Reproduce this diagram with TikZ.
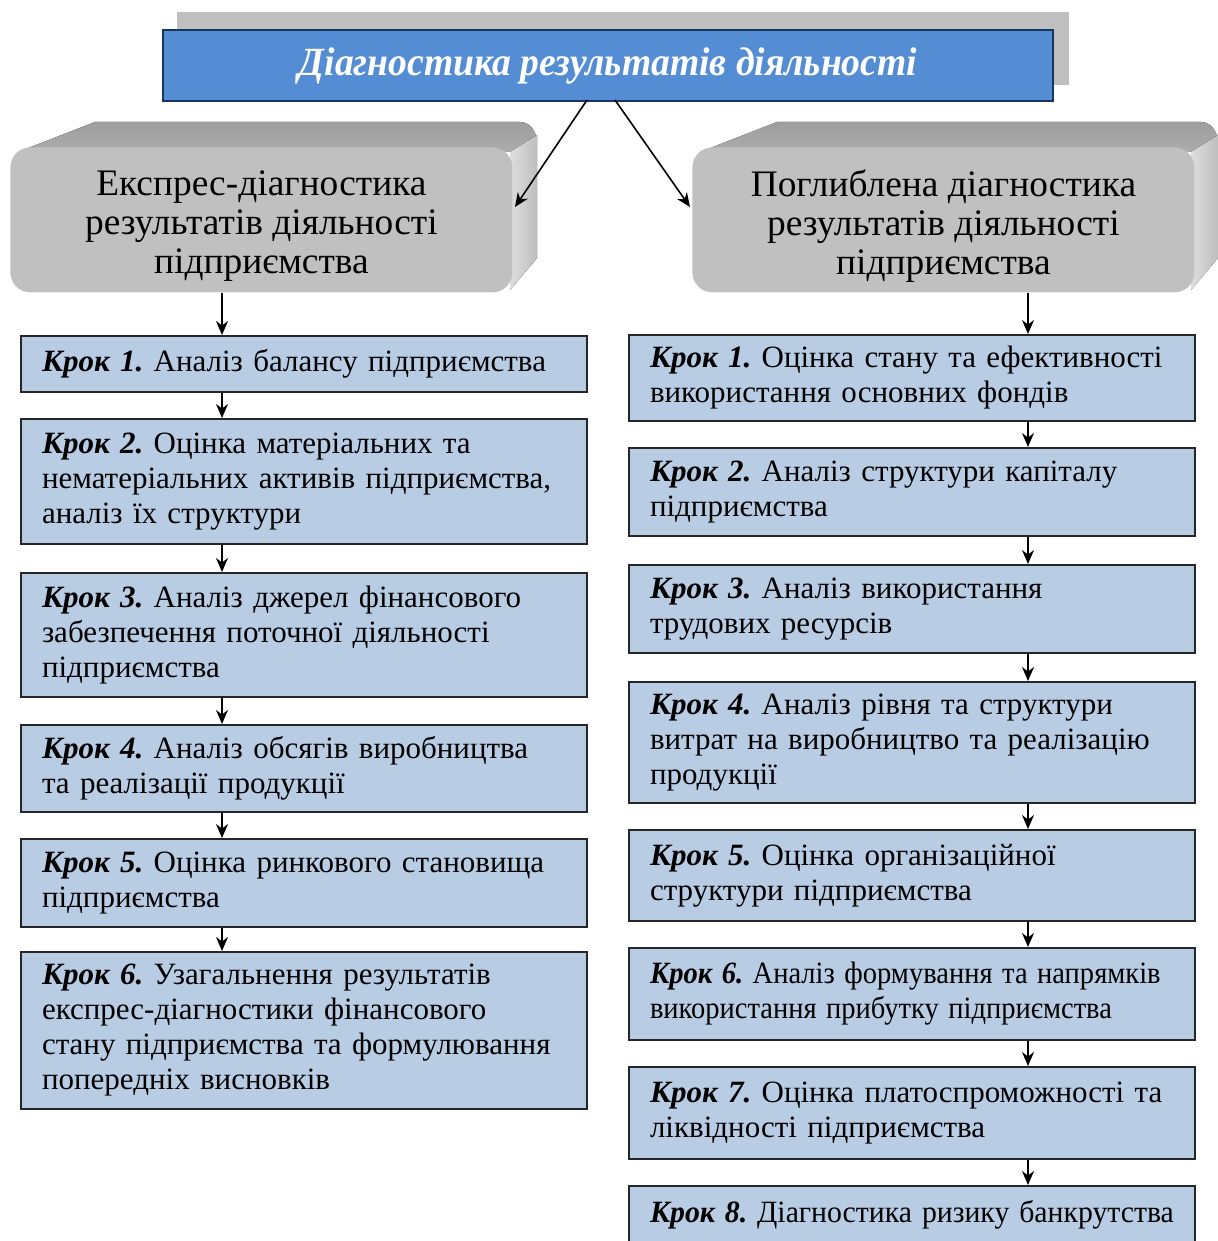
\documentclass[tikz,border=0pt]{standalone}
\usepackage{fontspec}
\setmainfont{Liberation Serif}
\usetikzlibrary{arrows.meta,calc}
\definecolor{bannerblue}{RGB}{84,141,212}
\definecolor{bannerborder}{RGB}{23,54,93}
\definecolor{stepfill}{RGB}{184,204,228}
\definecolor{topgray}{RGB}{158,158,158}
\definecolor{topgraylight}{RGB}{172,172,172}
\definecolor{frontgray}{RGB}{192,192,192}
\definecolor{sidegray}{RGB}{222,222,222}
\definecolor{sidegraydark}{RGB}{190,190,190}
\definecolor{shadowgray}{RGB}{191,191,191}
\newcommand\krok[1]{\textbf{\textit{Крок #1.}}}
\frenchspacing
\begin{document}
\begin{tikzpicture}[x=0.5pt,y=-0.5pt,
  stepbox/.style={draw=black!85, line width=1pt, fill=stepfill, anchor=north west,
    minimum width=283pt, text width=262pt, align=left, inner xsep=10.5pt, inner ysep=0pt,
    font=\fontsize{15.5}{17.5}\selectfont\frenchspacing},
  headbox/.style={fill=frontgray, rounded corners=10pt, anchor=north west,
    minimum width=251pt, minimum height=72.5pt, inner sep=0pt},
  headtext/.style={font=\fontsize{18.7}{19.5}\selectfont, align=center, yshift=-3pt},
  arr/.style={-{Stealth[length=7pt,width=6pt]}, line width=0.8pt},
  topface/.style={top color=topgray, bottom color=topgraylight},
  sideface/.style={left color=sidegray, right color=sidegraydark}
]
\useasboundingbox (0,0) rectangle (1218,1241);

% banner
\fill[shadowgray] (177,12) rectangle (1069,85);
\node[fill=bannerblue, draw=bannerborder, line width=1pt, anchor=north west,
  minimum width=445pt, minimum height=35.5pt, inner sep=0pt,
  text=white, font=\fontsize{20}{22}\selectfont\bfseries\itshape] (top) at (162,29)
  {\scalebox{0.94}[1]{Діагностика результатів діяльності}};

% left header 3D
\fill[topface] (18,152) -- (95,122) -- (520,122) to[out=0,in=100] (537,140) -- (512,152) -- cycle;
\fill[sideface] (510,152) -- (537,135) -- (537,258) -- (510,290) -- cycle;
\node[headbox, label={[headtext]center:Експрес-діагностика\\результатів діяльності\\підприємства}] (hl) at (10,147) {};

% right header 3D
\fill[topface] (700,152) -- (777,122) -- (1201,122) to[out=0,in=100] (1218,140) -- (1193,152) -- cycle;
\fill[sideface] (1191,152) -- (1218,135) -- (1218,258) -- (1191,290) -- cycle;
\node[headbox, label={[headtext]center:Поглиблена діагностика\\результатів діяльності\\підприємства}] (hr) at (692,147) {};

% diagonal arrows
\coordinate (ts1) at (587,100);
\coordinate (ts2) at (615,100);
\coordinate (le) at (515,207);
\coordinate (re) at (690,207);
\draw[arr] (ts1) -- (le);
\draw[arr] (ts2) -- (re);

% left column
\node[stepbox, minimum height=28pt] (l1) at (20,335)
  {\krok{1} Аналіз балансу підприємства};
\node[stepbox, minimum height=62.5pt] (l2) at (20,418)
  {\krok{2} Оцінка матеріальних та\\нематеріальних активів підприємства,\\аналіз їх структури};
\node[stepbox, minimum height=62pt] (l3) at (20,572)
  {\krok{3} Аналіз джерел фінансового\\забезпечення поточної діяльності\\підприємства};
\node[stepbox, minimum height=43.5pt] (l4) at (20,724)
  {\krok{4} Аналіз обсягів виробництва\\та реалізації продукції};
\node[stepbox, minimum height=44pt] (l5) at (20,838)
  {\krok{5} Оцінка ринкового становища\\підприємства};
\node[stepbox, minimum height=78.5pt] (l6) at (20,951)
  {\krok{6} Узагальнення результатів\\експрес-діагностики фінансового\\стану підприємства та формулювання\\попередніх висновків};

% right column
\node[stepbox, minimum height=43pt] (r1) at (628,334)
  {\krok{1} Оцінка стану та ефективності\\використання основних фондів};
\node[stepbox, minimum height=44pt] (r2) at (628,447)
  {\krok{2} Аналіз структури капіталу\\підприємства};
\node[stepbox, minimum height=44pt] (r3) at (628,564)
  {\krok{3} Аналіз використання\\трудових ресурсів};
\node[stepbox, minimum height=60.5pt] (r4) at (628,681)
  {\krok{4} Аналіз рівня та структури\\витрат на виробництво та реалізацію\\продукції};
\node[stepbox, minimum height=45.5pt] (r5) at (628,829)
  {\krok{5} Оцінка організаційної\\структури підприємства};
\node[stepbox, minimum height=46pt] (r6) at (628,947)
  {\scalebox{0.92}[1]{\krok{6} Аналіз формування та напрямків}\\\scalebox{0.92}[1]{використання прибутку підприємства}};
\node[stepbox, minimum height=46pt] (r7) at (628,1066)
  {\krok{7} Оцінка платоспроможності та\\ліквідності підприємства};
\node[stepbox, minimum height=29pt] (r8) at (628,1185)
  {\scalebox{0.96}[1]{\krok{8} Діагностика ризику банкрутства}};

% vertical arrows
\coordinate (lx) at (222,0);
\coordinate (rx) at (1028,0);
\draw[arr] (hl.south -| lx) -- (l1.north -| lx);
\draw[arr] (l1.south -| lx) -- (l2.north -| lx);
\draw[arr] (l2.south -| lx) -- (l3.north -| lx);
\draw[arr] (l3.south -| lx) -- (l4.north -| lx);
\draw[arr] (l4.south -| lx) -- (l5.north -| lx);
\draw[arr] (l5.south -| lx) -- (l6.north -| lx);
\draw[arr] (hr.south -| rx) -- (r1.north -| rx);
\draw[arr] (r1.south -| rx) -- (r2.north -| rx);
\draw[arr] (r2.south -| rx) -- (r3.north -| rx);
\draw[arr] (r3.south -| rx) -- (r4.north -| rx);
\draw[arr] (r4.south -| rx) -- (r5.north -| rx);
\draw[arr] (r5.south -| rx) -- (r6.north -| rx);
\draw[arr] (r6.south -| rx) -- (r7.north -| rx);
\draw[arr] (r7.south -| rx) -- (r8.north -| rx);
\end{tikzpicture}
\end{document}
